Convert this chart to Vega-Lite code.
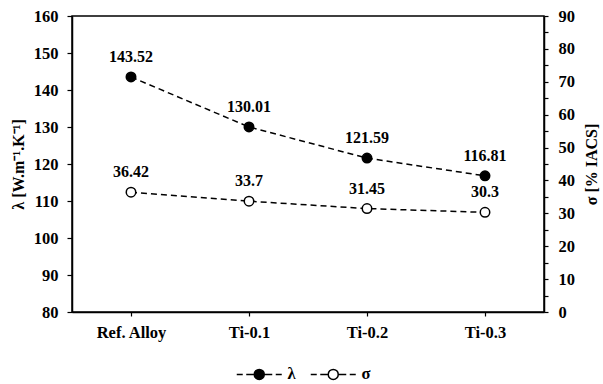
{
  "$schema": "https://vega.github.io/schema/vega-lite/v6.json",
  "width": 472,
  "height": 296,
  "padding": {"left": 10, "top": 8, "right": 5, "bottom": 5},
  "background": "white",
  "config": {
    "view": {"stroke": "black", "strokeWidth": 1.5},
    "font": "Liberation Serif",
    "axis": {
      "labelFont": "Liberation Serif", "labelFontWeight": "bold", "labelFontSize": 16.5, "labelColor": "black",
      "titleFont": "Liberation Serif", "titleFontWeight": "bold", "titleFontSize": 16, "titleColor": "black",
      "domainColor": "black", "domainWidth": 1.5, "tickColor": "black", "tickWidth": 1.2, "grid": false
    }
  },
  "data": {"values": [
    {"alloy": "Ref. Alloy", "lambda": 143.52, "sigma": 36.42},
    {"alloy": "Ti-0.1", "lambda": 130.01, "sigma": 33.7},
    {"alloy": "Ti-0.2", "lambda": 121.59, "sigma": 31.45},
    {"alloy": "Ti-0.3", "lambda": 116.81, "sigma": 30.3}
  ]},
  "encoding": {
    "x": {"field": "alloy", "type": "nominal", "sort": null,
      "axis": {"title": null, "labelAngle": 0, "labelPadding": 8, "tickSize": 4}}
  },
  "layer": [
    {
      "encoding": {
        "y": {"field": "lambda", "type": "quantitative", "scale": {"domain": [80, 160], "nice": false},
          "axis": {"orient": "left", "title": "λ [W.m⁻¹.K⁻¹]", "values": [80, 90, 100, 110, 120, 130, 140, 150, 160], "tickSize": 5, "labelPadding": 9, "titlePadding": 7}}
      },
      "layer": [
        {"mark": {"type": "line", "color": "black", "strokeWidth": 1.5, "strokeDash": [6, 4]}},
        {"mark": {"type": "point", "filled": true, "size": 90, "stroke": "black", "strokeWidth": 1.5, "opacity": 1},
          "encoding": {"fill": {"datum": "λ", "type": "nominal",
            "scale": {"domain": ["λ", "σ"], "range": ["black", "white"]},
            "legend": {"title": null, "orient": "none", "direction": "horizontal", "legendX": 179, "legendY": 350,
              "symbolType": "M-1,0A1,1,0,1,1,1,0A1,1,0,1,1,-1,0Z M-1,0H-2.6 M-3.3,0H-4.5 M1,0H2.6 M3.3,0H4.5",
              "symbolSize": 100, "symbolStrokeColor": "black", "symbolStrokeWidth": 1.5, "symbolOpacity": 1,
              "labelFont": "Liberation Serif", "labelFontWeight": "bold", "labelFontSize": 16.5, "labelColor": "black",
              "labelOffset": 20, "columnPadding": 11}}}},
        {"mark": {"type": "text", "font": "Liberation Serif", "fontWeight": "bold", "fontSize": 16, "dy": -20, "color": "black"},
          "encoding": {"text": {"field": "lambda", "type": "nominal"}}}
      ]
    },
    {
      "encoding": {
        "y": {"field": "sigma", "type": "quantitative", "scale": {"domain": [0, 90], "nice": false},
          "axis": {"orient": "right", "title": "σ [% IACS]", "titleAngle": 270, "titleBaseline": "top", "values": [0, 5, 10, 15, 20, 25, 30, 35, 40, 45, 50, 55, 60, 65, 70, 75, 80, 85, 90],
            "labelExpr": "datum.value % 10 == 0 ? datum.label : ''", "tickSize": 4, "labelPadding": 10, "titlePadding": 9}}
      },
      "layer": [
        {"mark": {"type": "line", "color": "black", "strokeWidth": 1.5, "strokeDash": [6, 4]}},
        {"mark": {"type": "point", "filled": true, "size": 90, "stroke": "black", "strokeWidth": 1.5, "opacity": 1},
          "encoding": {"fill": {"datum": "σ", "type": "nominal"}}},
        {"mark": {"type": "text", "font": "Liberation Serif", "fontWeight": "bold", "fontSize": 16, "dy": -20, "color": "black"},
          "encoding": {"text": {"field": "sigma", "type": "nominal"}}}
      ]
    }
  ],
  "resolve": {"scale": {"y": "independent"}}
}
